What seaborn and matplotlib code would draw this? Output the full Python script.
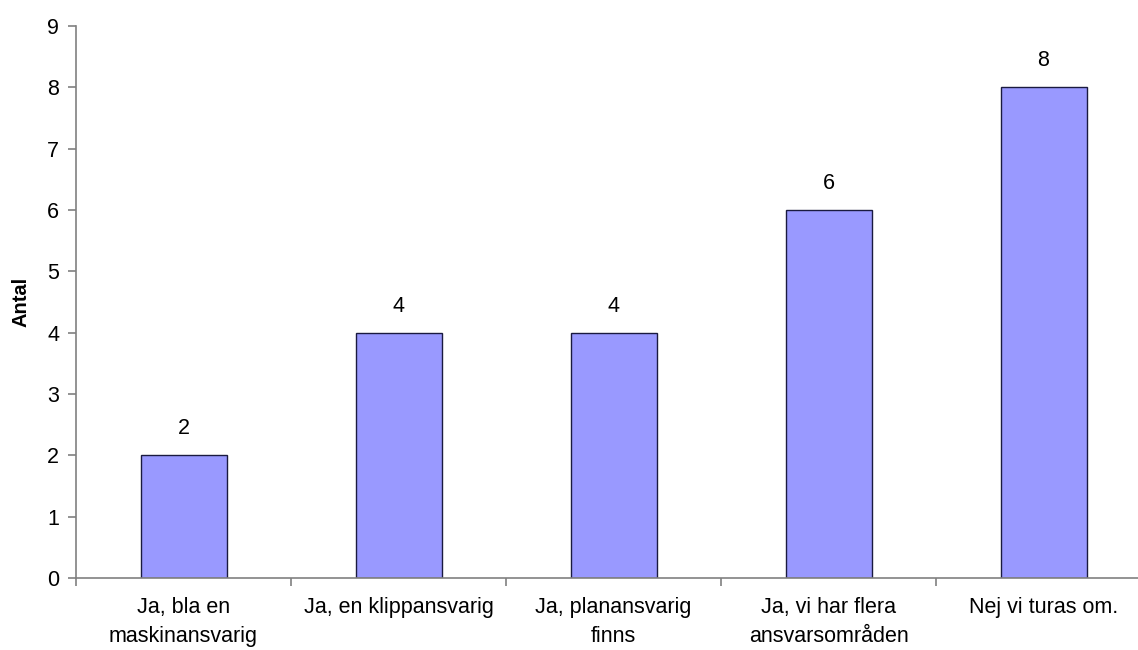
import numpy as np
import pandas as pd
import matplotlib
matplotlib.use('Agg')
import matplotlib.pyplot as plt
import seaborn as sns

# data
categories = ['Ja, bla en\nmaskinansvarig', 'Ja, en klippansvarig',
              'Ja, planansvarig\nfinns', 'Ja, vi har flera\nansvarsområden',
              'Nej vi turas om.']
values = [2, 4, 4, 6, 8]
y_ticks = list(range(0, 10))

BAR_COLOR = '#9999FF'
AXIS_GRAY = '#808080'

sns.set_style('white')
plt.rcParams['font.family'] = ['Liberation Sans', 'DejaVu Sans']
plt.rcParams['text.color'] = 'black'
plt.rcParams['xtick.color'] = AXIS_GRAY
plt.rcParams['ytick.color'] = AXIS_GRAY

df = pd.DataFrame({'kategori': categories, 'antal': values})

fig = plt.figure(figsize=(11.38, 6.5), dpi=100)
# axes intentionally runs past the right edge, like the original
ax = fig.add_axes([76 / 1138, 72 / 650, 1075 / 1138, 552 / 650])

sns.barplot(data=df, x='kategori', y='antal', color=BAR_COLOR,
            width=0.4, edgecolor='#1a1a40', linewidth=1.0,
            saturation=1, ax=ax)

ax.set_ylim(0, 9)
ax.set_xlim(-0.5, len(categories) - 0.5)
ax.set_yticks(y_ticks)
ax.set_yticklabels([str(t) for t in y_ticks], fontsize=15.5, color='black')

# tick marks between categories, labels at category centres
ax.set_xticks(np.arange(-0.5, len(categories), 1.0))
ax.set_xticklabels([])
ax.set_xticks(np.arange(len(categories)), minor=True)
ax.set_xticklabels(categories, minor=True, fontsize=15.5, linespacing=1.5,
                   color='black')
ax.tick_params(axis='x', which='major', bottom=True, length=6, width=1.2,
               color=AXIS_GRAY, direction='out')
ax.tick_params(axis='x', which='minor', bottom=True, length=0, pad=14)
ax.tick_params(axis='y', left=True, length=6, width=1.2, color=AXIS_GRAY,
               direction='out', pad=6)

for side in ['top', 'right']:
    ax.spines[side].set_visible(False)
for side in ['left', 'bottom']:
    ax.spines[side].set_color(AXIS_GRAY)
    ax.spines[side].set_linewidth(1.2)

ax.set_xlabel('')
ax.set_ylabel('Antal', fontsize=14.5, fontweight='bold', labelpad=12,
              color='black')

# value labels over bars
for i, v in enumerate(values):
    ax.annotate(str(v), (i, v), xytext=(0, 11.5), textcoords='offset points',
                ha='center', va='bottom', fontsize=15.5)

fig.savefig('out.png', dpi=100)
